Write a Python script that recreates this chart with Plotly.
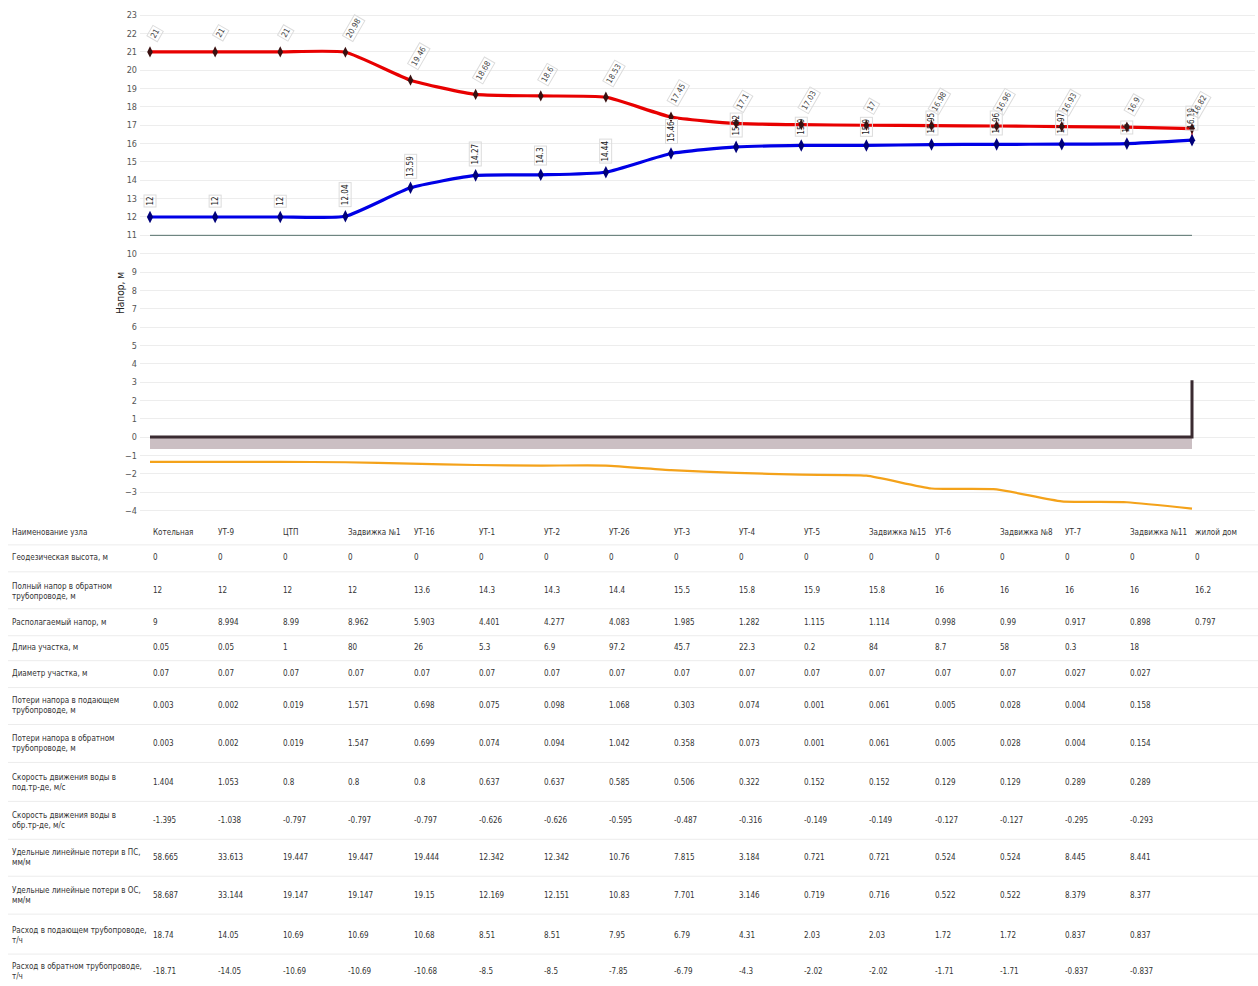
import plotly.graph_objects as go

W, H = 1258, 986

nodes = ["Котельная", "УТ-9", "ЦТП", "Задвижка №1", "УТ-16", "УТ-1", "УТ-2", "УТ-26", "УТ-3",
         "УТ-4", "УТ-5", "Задвижка №15", "УТ-6", "Задвижка №8", "УТ-7", "Задвижка №11", "жилой дом"]

supply_head = [21, 21, 21, 20.98, 19.46, 18.68, 18.6, 18.53, 17.45, 17.1, 17.03, 17.0, 16.98,
               16.96, 16.93, 16.9, 16.82]
return_head = [12, 12, 12, 12.04, 13.59, 14.27, 14.3, 14.44, 15.46, 15.82, 15.9, 15.9, 15.95,
               15.96, 15.97, 16.0, 16.19]
static_head = 11
terrain = [0] * 17
building_height = 3.1
lower_line = [-1.35, -1.35, -1.35, -1.37, -1.45, -1.52, -1.55, -1.55, -1.8, -1.95, -2.05, -2.1,
              -2.8, -2.85, -3.5, -3.55, -3.9]

row_labels = [
    "Наименование узла",
    "Геодезическая высота, м",
    "Полный напор в обратном<br>трубопроводе, м",
    "Располагаемый напор, м",
    "Длина участка, м",
    "Диаметр участка, м",
    "Потери напора в подающем<br>трубопроводе, м",
    "Потери напора в обратном<br>трубопроводе, м",
    "Скорость движения воды в<br>под.тр-де, м/с",
    "Скорость движения воды в<br>обр.тр-де, м/с",
    "Удельные линейные потери в ПС,<br>мм/м",
    "Удельные линейные потери в ОС,<br>мм/м",
    "Расход в подающем трубопроводе,<br>т/ч",
    "Расход в обратном трубопроводе,<br>т/ч",
]
geodesic = ["0"] * 17
full_return = ["12", "12", "12", "12", "13.6", "14.3", "14.3", "14.4", "15.5", "15.8", "15.9",
               "15.8", "16", "16", "16", "16", "16.2"]
available = ["9", "8.994", "8.99", "8.962", "5.903", "4.401", "4.277", "4.083", "1.985", "1.282",
             "1.115", "1.114", "0.998", "0.99", "0.917", "0.898", "0.797"]
length = ["0.05", "0.05", "1", "80", "26", "5.3", "6.9", "97.2", "45.7", "22.3", "0.2", "84",
          "8.7", "58", "0.3", "18", ""]
diameter = ["0.07"] * 14 + ["0.027", "0.027", ""]
loss_supply = ["0.003", "0.002", "0.019", "1.571", "0.698", "0.075", "0.098", "1.068", "0.303",
               "0.074", "0.001", "0.061", "0.005", "0.028", "0.004", "0.158", ""]
loss_return = ["0.003", "0.002", "0.019", "1.547", "0.699", "0.074", "0.094", "1.042", "0.358",
               "0.073", "0.001", "0.061", "0.005", "0.028", "0.004", "0.154", ""]
vel_supply = ["1.404", "1.053", "0.8", "0.8", "0.8", "0.637", "0.637", "0.585", "0.506", "0.322",
              "0.152", "0.152", "0.129", "0.129", "0.289", "0.289", ""]
vel_return = ["-1.395", "-1.038", "-0.797", "-0.797", "-0.797", "-0.626", "-0.626", "-0.595",
              "-0.487", "-0.316", "-0.149", "-0.149", "-0.127", "-0.127", "-0.295", "-0.293", ""]
spec_loss_supply = ["58.665", "33.613", "19.447", "19.447", "19.444", "12.342", "12.342", "10.76",
                    "7.815", "3.184", "0.721", "0.721", "0.524", "0.524", "8.445", "8.441", ""]
spec_loss_return = ["58.687", "33.144", "19.147", "19.147", "19.15", "12.169", "12.151", "10.83",
                    "7.701", "3.146", "0.719", "0.716", "0.522", "0.522", "8.379", "8.377", ""]
flow_supply = ["18.74", "14.05", "10.69", "10.69", "10.68", "8.51", "8.51", "7.95", "6.79", "4.31",
               "2.03", "2.03", "1.72", "1.72", "0.837", "0.837", ""]
flow_return = ["-18.71", "-14.05", "-10.69", "-10.69", "-10.68", "-8.5", "-8.5", "-7.85", "-6.79",
               "-4.3", "-2.02", "-2.02", "-1.71", "-1.71", "-0.837", "-0.837", ""]

table_rows = [nodes, geodesic, full_return, available, length, diameter, loss_supply, loss_return,
              vel_supply, vel_return, spec_loss_supply, spec_loss_return, flow_supply, flow_return]

FONT = "Liberation Sans Narrow, DejaVu Sans Condensed, Arial Narrow, sans-serif"
xi = list(range(len(nodes)))

fig = go.Figure()

# ground band
fig.add_trace(go.Scatter(x=[0, 16, 16, 0], y=[0, 0, -0.65, -0.65], fill="toself",
                         fillcolor="#cbbfc3", line=dict(width=0), mode="lines",
                         hoverinfo="skip", showlegend=False))
# static head line
fig.add_trace(go.Scatter(x=[0, 16], y=[static_head, static_head], mode="lines",
                         line=dict(color="#56706c", width=1), showlegend=False))
# terrain + building
fig.add_trace(go.Scatter(x=xi + [16], y=terrain + [building_height], mode="lines",
                         line=dict(color="#3a2b31", width=3), showlegend=False))
# lower (orange) line
fig.add_trace(go.Scatter(x=xi, y=lower_line, mode="lines",
                         line=dict(color="#f4a21a", width=2.2, shape="spline", smoothing=0.5),
                         showlegend=False))
# connection at consumer
fig.add_trace(go.Scatter(x=[16, 16], y=[supply_head[-1], return_head[-1]], mode="lines",
                         line=dict(color="#f04040", width=1.5), showlegend=False))
# supply
fig.add_trace(go.Scatter(x=xi, y=supply_head, mode="lines+markers",
                         line=dict(color="#e80000", width=3.2, shape="spline", smoothing=0.5),
                         marker=dict(symbol="diamond-tall", size=8, color="#3a1010"),
                         showlegend=False))
# return
fig.add_trace(go.Scatter(x=xi, y=return_head, mode="lines+markers",
                         line=dict(color="#0000e6", width=3.2, shape="spline", smoothing=0.5),
                         marker=dict(symbol="diamond-tall", size=9, color="#00007a"),
                         showlegend=False))


def fmt(v):
    return f"{v:.2f}".rstrip("0").rstrip(".")


ann = []
for i in xi:
    ann.append(dict(x=i, y=return_head[i], xref="x", yref="y", text=fmt(return_head[i]),
                    textangle=-90, showarrow=False, yanchor="bottom", yshift=9,
                    font=dict(family=FONT, size=8, color="#222"),
                    bordercolor="#dcdcdc", borderwidth=1, borderpad=1))
    ann.append(dict(x=i, y=supply_head[i], xref="x", yref="y", text=fmt(supply_head[i]),
                    textangle=-60, showarrow=False, yanchor="bottom", xanchor="left",
                    yshift=10, xshift=-4,
                    font=dict(family=FONT, size=8, color="#444"),
                    bordercolor="#dcdcdc", borderwidth=1, borderpad=1))

ann.append(dict(x=113 / W, y=1 - 270 / H, xref="paper", yref="paper", text="Напор, м",
                textangle=-90, showarrow=False, font=dict(family=FONT, size=10, color="#222")))

row_py = [533, 558, 591, 623, 648, 674, 706, 744, 783, 821, 858, 896, 936, 972]
for r, (lab, vals) in enumerate(zip(row_labels, table_rows)):
    yp = 1 - row_py[r] / H
    ann.append(dict(x=10 / W, y=yp, xref="paper", yref="paper", text=lab, align="left",
                    xanchor="left", yanchor="middle", showarrow=False,
                    font=dict(family=FONT, size=8, color="#333")))
    for i, v in enumerate(vals):
        if v == "":
            continue
        ann.append(dict(x=i, y=yp, xref="x", yref="paper", text=v, xanchor="left",
                        yanchor="middle", xshift=1, showarrow=False,
                        font=dict(family=FONT, size=8, color="#333")))

shapes = []
for py in [545, 572, 609, 636, 661, 688, 725, 763, 802, 840, 877, 915, 955]:
    shapes.append(dict(type="line", xref="paper", yref="paper", x0=8 / W, x1=1.0,
                       y0=1 - py / H, y1=1 - py / H, line=dict(color="#ececec", width=1)))

px_per = (1192 - 150) / 16
r0 = -(150 - 140) / px_per
r1 = r0 + (1255 - 140) / px_per

yr = [-4.2, 23.2]
ppu = (437 - 51) / 21
y_top_px = 437 - yr[1] * ppu
y_bot_px = 437 - yr[0] * ppu

fig.update_layout(
    width=W, height=H,
    margin=dict(l=0, r=0, t=0, b=0),
    paper_bgcolor="white", plot_bgcolor="white",
    font=dict(family=FONT, size=9, color="#444"),
    xaxis=dict(domain=[140 / W, 1255 / W], range=[r0, r1], showgrid=False, zeroline=False,
               showticklabels=False, showline=False, ticks=""),
    yaxis=dict(domain=[1 - y_bot_px / H, 1 - y_top_px / H], range=yr, dtick=1, tick0=0,
               showgrid=True, gridcolor="#ededed", zeroline=False, showline=False,
               tickfont=dict(family=FONT, size=9, color="#555"), ticklabelstandoff=2),
    annotations=ann,
    shapes=shapes,
    showlegend=False,
)

fig.write_html("out.html")
